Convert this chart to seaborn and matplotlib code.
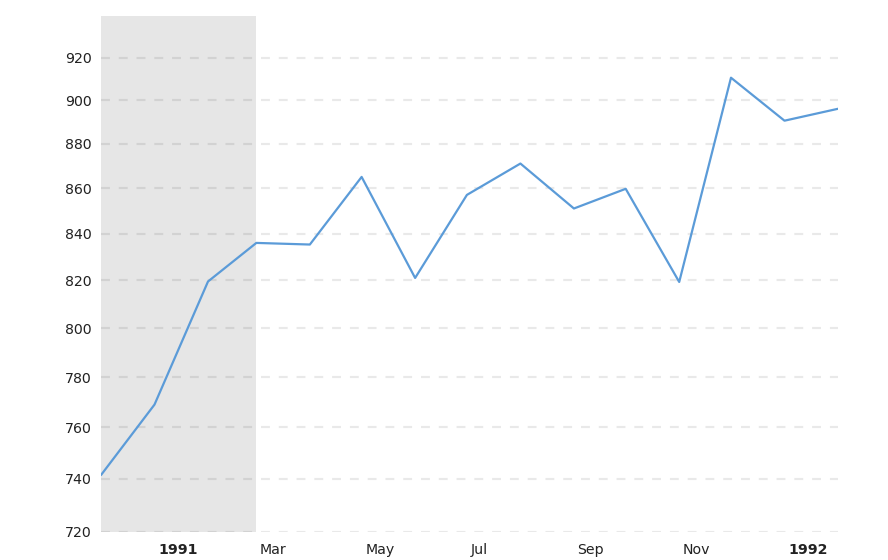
import matplotlib
matplotlib.use("Agg")
import matplotlib.pyplot as plt
import matplotlib.transforms as mtransforms
from matplotlib.ticker import FixedLocator, FixedFormatter, NullLocator
import seaborn as sns
import pandas as pd

dates = pd.date_range("1990-12-01", "1992-02-01", freq="MS")
values = [741.5, 769, 819.5, 836, 835.3, 865, 821, 857, 871, 851, 859.7, 819.3, 910.5, 890.5, 896]
recession_start = "1990-12-01"
recession_end = "1991-03-01"
y_ticks = [720, 740, 760, 780, 800, 820, 840, 860, 880, 900, 920]
x_tick_dates = ["1991-01-01", "1991-03-01", "1991-05-01", "1991-07-01", "1991-09-01", "1991-11-01", "1992-01-01"]
x_tick_labels = ["1991", "Mar", "May", "Jul", "Sep", "Nov", "1992"]
bold_labels = {"1991", "1992"}

df = pd.DataFrame({"date": dates, "value": values})

sns.set_style("white")
plt.rcParams['font.family'] = ['DejaVu Sans']

fig = plt.figure(figsize=(8.88, 5.6), dpi=100)
ax = fig.add_axes([101/888, 28/560, (838-101)/888, (532-16)/560])

ax.axvspan(pd.Timestamp(recession_start), pd.Timestamp(recession_end), color="#e6e6e6", zorder=0, lw=0)

sns.lineplot(data=df, x="date", y="value", ax=ax, color="#5b9bd8", linewidth=1.6, zorder=3)

ax.set_yscale("log")
ax.set_ylim(720, 940)
ax.set_xlim(dates[0], dates[-1])
ax.yaxis.set_major_locator(FixedLocator(y_ticks))
ax.yaxis.set_major_formatter(FixedFormatter([str(v) for v in y_ticks]))
ax.yaxis.set_minor_locator(NullLocator())

for v in y_ticks:
    ax.axhline(v, color=(0, 0, 0, 0.085), linestyle=(0, (4, 4)), linewidth=1.6, zorder=1)

ax.set_xticks([])
ax.xaxis.set_minor_locator(NullLocator())
blend = mtransforms.blended_transform_factory(ax.transData, ax.transAxes)
offset = mtransforms.ScaledTranslation(3.5/100, -18/100, fig.dpi_scale_trans)
for d, lab in zip(x_tick_dates, x_tick_labels):
    ax.text(pd.Timestamp(d), 0, lab, transform=blend + offset, ha="left", va="center",
            fontsize=10.2, color="#222222",
            fontweight="bold" if lab in bold_labels else "normal", clip_on=False)
ax.tick_params(axis="y", length=0, pad=6.5, labelsize=10.2, colors="#222222")

for s in ax.spines.values():
    s.set_visible(False)
ax.set_xlabel("")
ax.set_ylabel("")
ax.grid(False)

fig.savefig("out.png", dpi=100)
